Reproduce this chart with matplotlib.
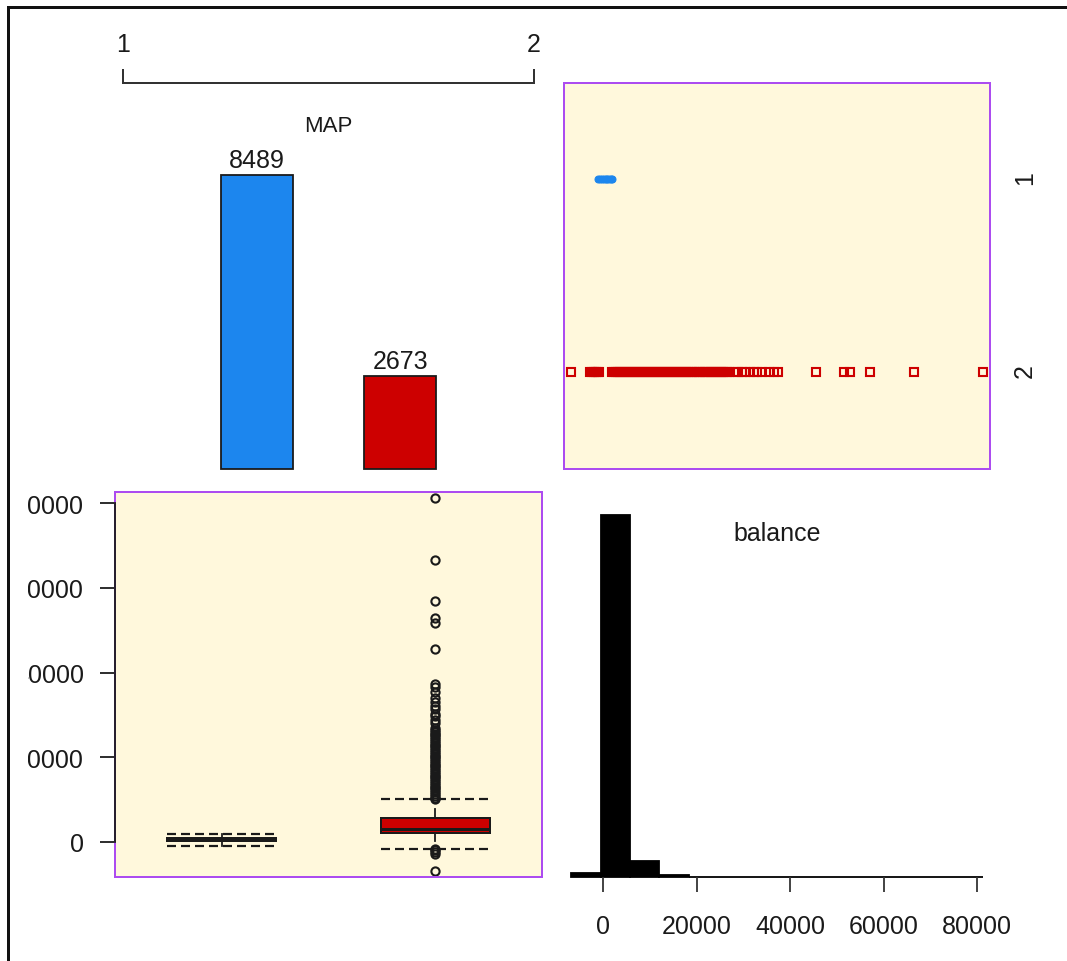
"""Cluster pairs panel: MAP counts, balance by cluster and the balance histogram."""

import matplotlib

matplotlib.use("Agg")

import numpy as np
from matplotlib import pyplot as plt
from matplotlib.lines import Line2D
from matplotlib.patches import Rectangle
from matplotlib.transforms import Bbox, TransformedBbox

W, H, DPI = 1067, 962, 100

plt.rcParams["font.family"] = ["Liberation Sans", "DejaVu Sans"]
plt.rcParams["lines.scale_dashes"] = False

# ---- data -------------------------------------------------------------
clusters = ["1", "2"]
cluster_sizes = [8489, 2673]
balance_min, balance_max = -6847, 81204

cluster1_balance = [-1100, -700, -300, 100, 500, 900, 1300, 1650, 1900]
cluster2_balance = [
    -6847, -2900, -2480, -2050, -1620, -1190, -800,
    1850, 2270, 2710, 3120, 3570, 3990, 4430, 4840, 5290, 5710,
    6140, 6580, 6990, 7440, 7860, 8310, 8720, 9160, 9590, 10030,
    10450, 10890, 11320, 11740, 12190, 12610, 13050, 13470, 13920, 14340,
    14780, 15210, 15630, 16080, 16500, 16940, 17360, 17800, 18230, 18650,
    19100, 19520, 19960, 20390, 20810, 21250, 21680, 22110, 22540, 22980,
    23400, 23840, 24270, 24690, 25130, 25560, 25990,
    26400, 27000, 28100, 28900, 29700, 30300, 31500, 32200, 33000, 34000,
    35500, 36600, 37300,
    45500, 51600, 52900, 57000, 66500, 81204,
]

# box summaries per cluster: q1, median, q3, whisker low/high, fence low/high
box_q1 = [150, 2130]
box_median = [550, 3080]
box_q3 = [1000, 5680]
box_whislo = [-1100, 140]
box_whishi = [1900, 7690]
box_fence_lo = [-1100, -1590]
box_fence_hi = [1900, 10010]

hist_counts = [118, 10488, 472, 58, 12, 4, 2, 2, 1, 2, 1, 1, 0, 1]
balance_ticks = [0, 20000, 40000, 60000, 80000]

# ---- style ------------------------------------------------------------
BLUE = "#1C86EE"
RED = "#CD0000"
CORNSILK = "#FFF8DC"
PURPLE = "#AC4CF0"
INK = "#1a1a1a"
PX = 72 / DPI  # points per pixel
FS = 18


def panel(fig, x0, y0, x1, y1):
    return fig.add_axes([x0 / W, 1 - y1 / H, (x1 - x0) / W, (y1 - y0) / H])


def framed(ax):
    ax.set_facecolor(CORNSILK)
    for spine in ax.spines.values():
        spine.set_visible(False)
    ax.add_patch(Rectangle((0, 0), 1, 1, transform=ax.transAxes, fill=False,
                           edgecolor=PURPLE, linewidth=2 * PX, zorder=2.4,
                           clip_on=False))


fig = plt.figure(figsize=(W / DPI, H / DPI), dpi=DPI)
fig.patch.set_facecolor("white")

span = balance_max - balance_min
lim_lo = balance_min - 0.0175 * span
lim_hi = balance_max + 0.0175 * span

# ---- top left: cluster counts ----------------------------------------
ax_bar = panel(fig, 115, 83.7, 542, 470)
ax_bar.set_xlim(0.98, 2.02)
ax_bar.set_ylim(0, sum(cluster_sizes))
bar_pos = 1.5 + (np.arange(len(cluster_sizes)) - 0.5) * 0.35
ax_bar.bar(bar_pos, cluster_sizes, width=0.175, color=[BLUE, RED],
           edgecolor=INK, linewidth=1.8 * PX, clip_on=False)
for x, n in zip(bar_pos, cluster_sizes):
    ax_bar.annotate(str(n), (x, n), xytext=(0, 2.5), textcoords="offset points",
                    ha="center", va="bottom", fontsize=FS, color=INK)
ax_bar.text(0.5, 0.89, "MAP", transform=ax_bar.transAxes, ha="center",
            va="center", fontsize=16, color=INK)
for name, spine in ax_bar.spines.items():
    spine.set_visible(name == "top")
ax_bar.spines["top"].set_bounds(1, 2)
ax_bar.spines["top"].set_color("#333333")
ax_bar.spines["top"].set_linewidth(2 * PX)
ax_bar.xaxis.tick_top()
ax_bar.set_xticks([1, 2], clusters)
ax_bar.set_yticks([])
ax_bar.tick_params(axis="x", direction="out", length=14 * PX, width=2 * PX,
                   color="#333333", pad=9.5, labelsize=FS, labelcolor=INK)

# ---- top right: balance by cluster -----------------------------------
ax_sc = panel(fig, 564, 83.7, 990, 470)
framed(ax_sc)
ax_sc.plot(cluster1_balance, [1] * len(cluster1_balance), "o", color=BLUE,
           ms=7 * PX, mec=BLUE, mew=1 * PX)
ax_sc.plot(cluster2_balance, [2] * len(cluster2_balance), "s", mfc="none",
           mec=RED, ms=7.6 * PX, mew=2.1 * PX)
ax_sc.set_xlim(lim_lo, lim_hi)
ax_sc.set_ylim(2.5, 0.5)
ax_sc.set_xticks([])
ax_sc.yaxis.tick_right()
ax_sc.set_yticks([1, 2], clusters)
ax_sc.tick_params(axis="y", length=0, pad=16.4, labelsize=FS,
                  labelcolor=INK, labelrotation=90)

# ---- bottom left: boxplots of balance per cluster ---------------------
ax_box = panel(fig, 115, 492.7, 542, 878.3)
framed(ax_box)
cluster2_arr = np.array(cluster2_balance)
fliers = [
    [],
    cluster2_arr[(cluster2_arr > box_fence_hi[1]) | (cluster2_arr < box_fence_lo[1])],
]
stats = [
    dict(q1=box_q1[i], med=box_median[i], q3=box_q3[i],
         whislo=box_whislo[i], whishi=box_whishi[i], fliers=fliers[i])
    for i in range(len(clusters))
]
box_w = 0.51
bp = ax_box.bxp(stats, positions=[1, 2], widths=box_w, patch_artist=True,
                showcaps=False,
                boxprops=dict(edgecolor=INK, linewidth=2 * PX),
                medianprops=dict(color=INK, linewidth=3 * PX),
                whiskerprops=dict(color=INK, linewidth=1.8 * PX),
                flierprops=dict(marker="o", mfc="none", mec=INK,
                                ms=8.2 * PX, mew=2.1 * PX))
for patch, c in zip(bp["boxes"], [BLUE, RED]):
    patch.set_facecolor(c)
for i, pos in enumerate([1, 2]):
    ax_box.hlines([box_fence_lo[i], box_fence_hi[i]], pos - box_w / 2,
                  pos + box_w / 2, colors=INK, linewidth=2.2 * PX,
                  linestyles=(0, (9 * PX, 5 * PX)))
ax_box.set_xlim(0.5, 2.5)
ax_box.set_ylim(lim_lo, lim_hi)
ax_box.set_xticks([])
ax_box.set_yticks(balance_ticks, [str(t) for t in balance_ticks])
ax_box.spines["left"].set_visible(True)
ax_box.spines["left"].set_bounds(balance_ticks[0], balance_ticks[-1])
ax_box.spines["left"].set_color(INK)
ax_box.spines["left"].set_linewidth(1.8 * PX)
ax_box.tick_params(axis="y", direction="out", length=15 * PX, width=1.8 * PX,
                   color=INK, pad=11.5, labelsize=FS, labelcolor=INK)
# the leading digit of each label runs off the device edge
label_clip = TransformedBbox(Bbox.from_extents(28 / W, 0, 1, 1), fig.transFigure)
for lbl in ax_box.get_yticklabels():
    lbl.set_clip_box(label_clip)
    lbl.set_clip_on(True)

# ---- bottom right: histogram of balance -------------------------------
ax_hist = panel(fig, 564, 492.7, 990, 878.3)
edges = np.linspace(balance_min, balance_max, len(hist_counts) + 1)
ax_hist.bar(edges[:-1], hist_counts, width=np.diff(edges), align="edge",
            color="black", edgecolor="black", linewidth=1.8 * PX, clip_on=False)
ax_hist.set_xlim(lim_lo, lim_hi)
ax_hist.set_ylim(0, sum(hist_counts))
for spine in ax_hist.spines.values():
    spine.set_visible(False)
ax_hist.set_facecolor("none")
ax_hist.set_yticks([])
ax_hist.set_xticks(balance_ticks, [str(t) for t in balance_ticks])
ax_hist.tick_params(axis="x", direction="out", length=15 * PX, width=1.8 * PX,
                    color="#333333", pad=15.8, labelsize=FS, labelcolor=INK)
ax_hist.text(0.5, 0.894, "balance", transform=ax_hist.transAxes, ha="center",
             va="center", fontsize=FS, color=INK)

# ---- outer frame ------------------------------------------------------
frame_kw = dict(color="#111111", linewidth=3 * PX, transform=fig.transFigure,
                solid_capstyle="projecting")
fig.add_artist(Line2D([7.5 / W, 7.5 / W], [1 - 8 / H, 0], **frame_kw))
fig.add_artist(Line2D([7.5 / W, 1], [1 - 8 / H, 1 - 8 / H], **frame_kw))

fig.savefig("out.png", dpi=DPI, facecolor="white")
